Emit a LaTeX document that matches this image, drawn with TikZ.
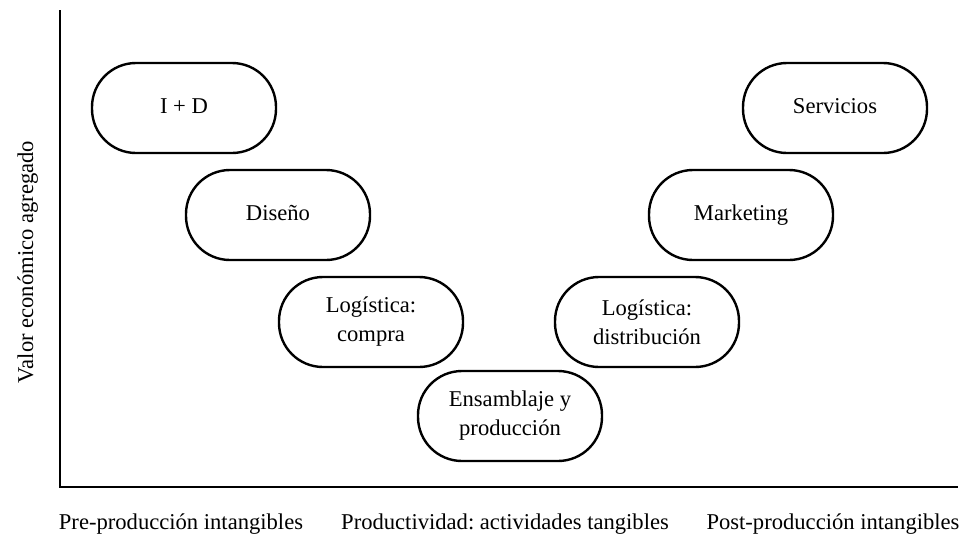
\documentclass[tikz,border=0pt]{standalone}
\usepackage{fontspec}
\setmainfont{Liberation Serif}
\usepackage{tikz}
\usetikzlibrary{positioning}
\frenchspacing

\tikzset{
  etapa/.style={draw, line width=1.2pt, rounded corners=22pt, minimum width=92pt,
    minimum height=45pt, inner sep=0pt, align=center,
    font=\fontsize{11.3}{14.5}\selectfont},
  eje/.style={line width=1.4pt},
  rotulo/.style={font=\fontsize{11.3}{14}\selectfont, anchor=base}
}

\begin{document}
\begin{tikzpicture}[x=0.5pt, y=-0.5pt]
    \useasboundingbox (0,0) rectangle (962,536);

    % Ejes
    \coordinate (arriba) at (60,10);
    \coordinate (origen) at (60,487);
    \coordinate (derecha) at (958,487);
    \draw[eje] (arriba) -- (origen) -- (derecha);

    % Etapas - curva de la sonrisa
    \node[etapa] (id) at (184,108) {\strut I + D};
    \node[etapa] (diseno) at (278,215) {\strut Diseño};
    \node[etapa] (compra) at (371,322) {Logística:\\compra};
    \node[etapa] (ensamblaje) at (510,416) {Ensamblaje y\\producción};
    \node[etapa] (distribucion) at (647,322) {Logística:\\distribución};
    \node[etapa] (marketing) at (741,215) {\strut Marketing};
    \node[etapa] (servicios) at (835,108) {\strut Servicios};

    % Rotulos de los ejes
    \node[rotulo, rotate=90] (valor) at (33,262) {Valor económico agregado};
    \node[rotulo] (pre) at (181,529) {Pre-producción intangibles};
    \node[rotulo] (prod) at (505,529) {Productividad: actividades tangibles};
    \node[rotulo] (post) at (833,529) {Post-producción intangibles};

\end{tikzpicture}
\end{document}
